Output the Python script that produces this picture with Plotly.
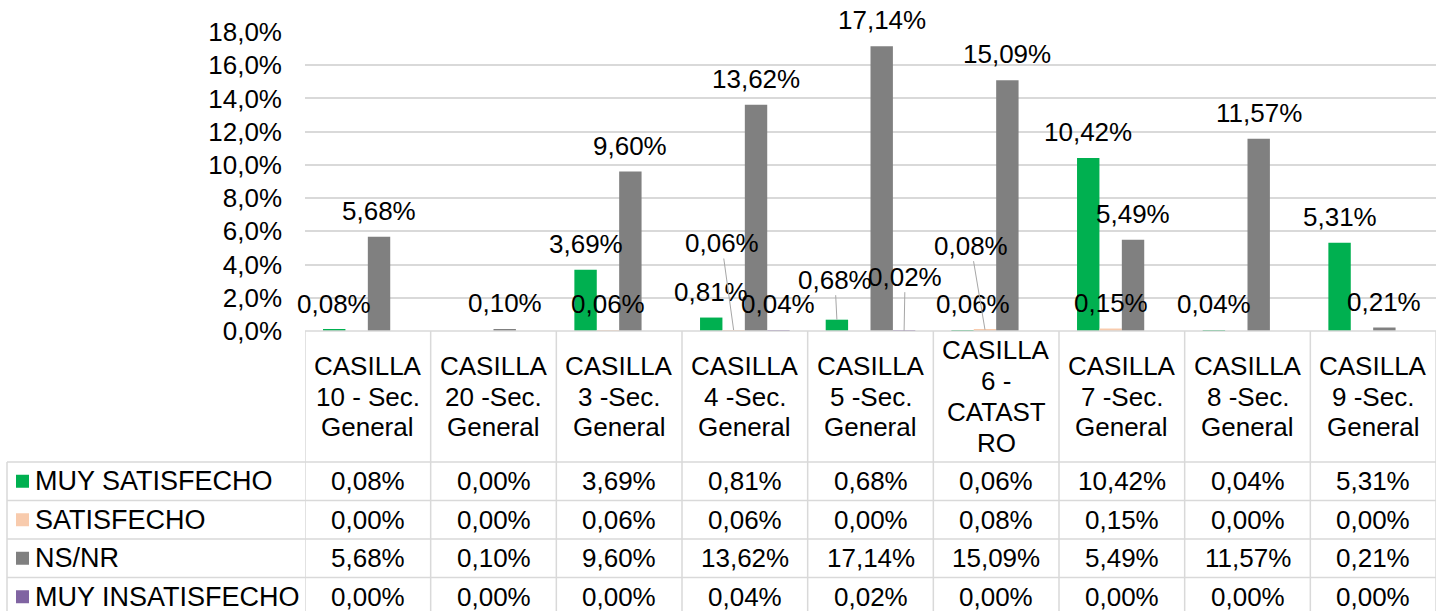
import plotly.graph_objects as go

# ---------------- data ----------------
categories = [
    "CASILLA 10 - Sec. General",
    "CASILLA 20 -Sec. General",
    "CASILLA 3 -Sec. General",
    "CASILLA 4 -Sec. General",
    "CASILLA 5 -Sec. General",
    "CASILLA 6 - CATASTRO",
    "CASILLA 7 -Sec. General",
    "CASILLA 8 -Sec. General",
    "CASILLA 9 -Sec. General",
]
# wrapped header text as shown in the data table
header_lines = [
    ["CASILLA", "10 - Sec.", "General"],
    ["CASILLA", "20 -Sec.", "General"],
    ["CASILLA", "3 -Sec.", "General"],
    ["CASILLA", "4 -Sec.", "General"],
    ["CASILLA", "5 -Sec.", "General"],
    ["CASILLA", "6 -", "CATAST", "RO"],
    ["CASILLA", "7 -Sec.", "General"],
    ["CASILLA", "8 -Sec.", "General"],
    ["CASILLA", "9 -Sec.", "General"],
]
series_names = ["MUY SATISFECHO", "SATISFECHO", "NS/NR", "MUY INSATISFECHO"]
muy_satisfecho = [0.08, 0.00, 3.69, 0.81, 0.68, 0.06, 10.42, 0.04, 5.31]
satisfecho = [0.00, 0.00, 0.06, 0.06, 0.00, 0.08, 0.15, 0.00, 0.00]
ns_nr = [5.68, 0.10, 9.60, 13.62, 17.14, 15.09, 5.49, 11.57, 0.21]
muy_insatisfecho = [0.00, 0.00, 0.00, 0.04, 0.02, 0.00, 0.00, 0.00, 0.00]
y_ticks = [0, 2, 4, 6, 8, 10, 12, 14, 16, 18]
y_tick_labels = ["0,0%", "2,0%", "4,0%", "6,0%", "8,0%", "10,0%", "12,0%", "14,0%", "16,0%", "18,0%"]

# ---------------- styles ----------------
series_values = [muy_satisfecho, satisfecho, ns_nr, muy_insatisfecho]
colors = ["#00B050", "#F8CBAD", "#808080", "#8064A2"]
FONT = "Liberation Sans, Arial, sans-serif"
FS = 26
FS_LEG = 27
GRID = "#D9D9D9"

W, H = 1442, 611
PL, PR, PT, PB = 305, 1436, 32, 331
BARGAP = 0.287
n_series = len(series_values)

def px_x(X):
    return (X - PL) / (PR - PL)

def px_y(Y):
    return (PB - Y) / (PB - PT)

def fmt(v):
    return f"{v:.2f}".replace(".", ",") + "%"

xs = list(range(len(categories)))

fig = go.Figure()
for name, vals, col in zip(series_names, series_values, colors):
    fig.add_trace(go.Bar(
        x=xs, y=vals, name=name, marker=dict(color=col, line=dict(width=0)),
        showlegend=False, hovertext=categories,
    ))

# bar offsets inside a group (in category units)
group_w = 1 - BARGAP
bar_w = group_w / n_series
offsets = [-group_w / 2 + (k + 0.5) * bar_w for k in range(n_series)]

annotations = []
shapes = []

# ---- data labels ----
# manual label placements (pixel offsets of label centre from bar top), like Excel's moved labels
moved = {
    (1, 3): dict(ax=-12, ay=-87, arrow=True),
    (0, 4): dict(ax=-2, ay=-40, arrow=True),
    (3, 4): dict(ax=1, ay=-54, arrow=True),
    (1, 5): dict(ax=-14, ay=-84, arrow=True),
    (0, 5): dict(ax=10, ay=-26, arrow=False),
}
for s, vals in enumerate(series_values):
    for i, v in enumerate(vals):
        if v <= 0:
            continue
        x = i + offsets[s]
        m = moved.get((s, i))
        if m and m["arrow"]:
            annotations.append(dict(
                x=x, y=v, xref="x", yref="y", text=fmt(v), showarrow=True,
                arrowhead=0, arrowwidth=1, arrowcolor="#A6A6A6", standoff=0,
                ax=m["ax"], ay=m["ay"], font=dict(size=FS, color="#000000"),
                borderpad=0,
            ))
        else:
            dx = m["ax"] if m else 0
            annotations.append(dict(
                x=x, y=v, xref="x", yref="y", text=fmt(v), showarrow=False,
                xanchor="center", yanchor="middle", yshift=26, xshift=dx,
                font=dict(size=FS, color="#000000"),
            ))

# ---- data table ----
HEAD_TOP, HEAD_BOT = PB, 462
ROW_H = 38.5
row_edges = [HEAD_BOT + ROW_H * k for k in range(len(series_names) + 1)]
TABLE_LEFT = 7

line_style = dict(color=GRID, width=1.5)
# horizontal lines
shapes.append(dict(type="line", xref="paper", yref="paper", x0=0, x1=1,
                   y0=px_y(HEAD_TOP), y1=px_y(HEAD_TOP), line=line_style))
for Y in row_edges:
    shapes.append(dict(type="line", xref="paper", yref="paper", x0=px_x(TABLE_LEFT), x1=1,
                       y0=px_y(Y), y1=px_y(Y), line=line_style))
# vertical lines
shapes.append(dict(type="line", xref="paper", yref="paper", x0=px_x(TABLE_LEFT), x1=px_x(TABLE_LEFT),
                   y0=px_y(HEAD_BOT), y1=px_y(row_edges[-1]), line=line_style))
for k in range(len(categories) + 1):
    shapes.append(dict(type="line", xref="x", yref="paper", x0=k - 0.5, x1=k - 0.5,
                       y0=px_y(HEAD_TOP), y1=px_y(row_edges[-1]), line=line_style))

# header text
head_c = (HEAD_TOP + HEAD_BOT) / 2
LS = 30.7
for i, lines in enumerate(header_lines):
    n = len(lines)
    for k, t in enumerate(lines):
        Y = head_c + (k - (n - 1) / 2) * LS
        annotations.append(dict(x=i, y=px_y(Y), xref="x", yref="paper", text=t,
                                showarrow=False, xanchor="center", yanchor="middle",
                                font=dict(size=FS, color="#000000")))

# rows
for s, (name, vals, col) in enumerate(zip(series_names, series_values, colors)):
    yc = (row_edges[s] + row_edges[s + 1]) / 2
    shapes.append(dict(type="rect", xref="paper", yref="paper",
                       x0=px_x(16), x1=px_x(29), y0=px_y(yc - 6.5), y1=px_y(yc + 6.5),
                       fillcolor=col, line=dict(width=0)))
    annotations.append(dict(x=px_x(33), y=px_y(yc), xref="paper", yref="paper", text=name,
                            showarrow=False, xanchor="left", yanchor="middle",
                            font=dict(size=FS_LEG, color="#000000")))
    for i, v in enumerate(vals):
        annotations.append(dict(x=i, y=px_y(yc), xref="x", yref="paper", text=fmt(v),
                                showarrow=False, xanchor="center", yanchor="middle",
                                font=dict(size=FS, color="#000000")))

fig.update_layout(
    width=W, height=H,
    margin=dict(l=PL, r=W - PR, t=PT, b=H - PB, pad=0),
    paper_bgcolor="white", plot_bgcolor="white",
    font=dict(family=FONT, size=FS, color="#000000"),
    separators=",.",
    barmode="group", bargap=BARGAP, bargroupgap=0,
    xaxis=dict(range=[-0.5, len(categories) - 0.5], showticklabels=False, showgrid=False,
               zeroline=False, showline=False, ticks="", fixedrange=True),
    yaxis=dict(range=[0, 18], tickmode="array", tickvals=y_ticks, ticktext=y_tick_labels,
               showgrid=True, gridcolor=GRID, gridwidth=1.5, zeroline=False, showline=False,
               ticks="", ticklabelstandoff=22, tickfont=dict(size=FS, color="#000000")),
    shapes=shapes, annotations=annotations,
    showlegend=False,
)

fig.write_html(
    "out.html",
    config={"displayModeBar": False},
    post_script="document.body.style.margin='0';document.body.style.overflow='hidden';",
)
